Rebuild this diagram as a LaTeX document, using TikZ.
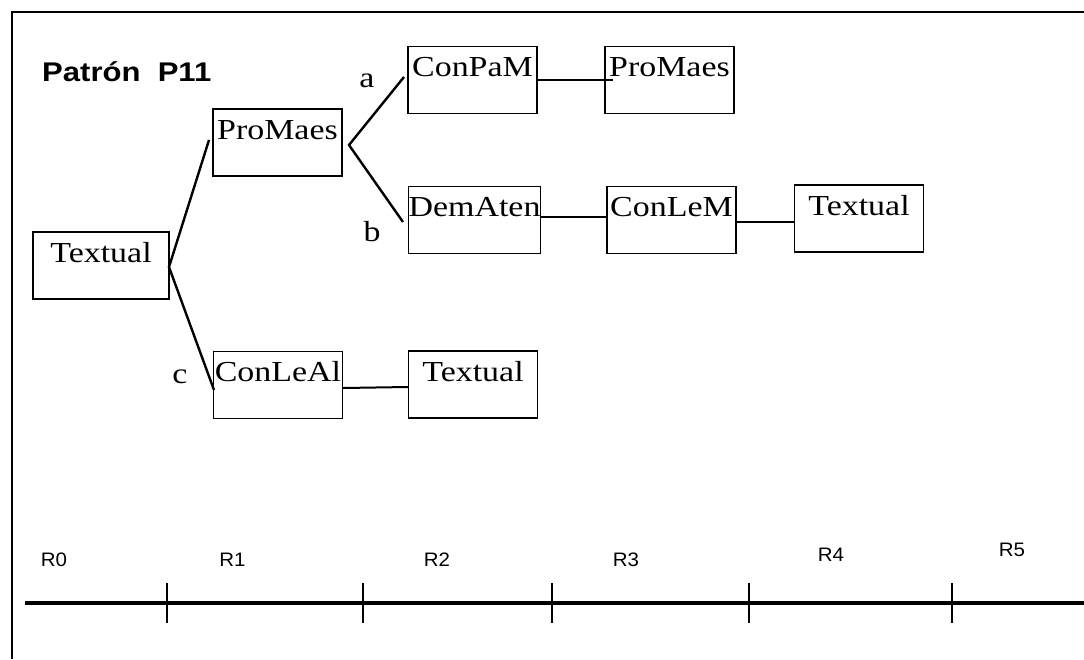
\documentclass[tikz,border=0pt]{standalone}
\usepackage{fontspec}
\newfontfamily\tnr[FakeStretch=1.17]{Liberation Serif}
\newfontfamily\arb[FakeStretch=1.15]{Liberation Sans}
\newfontfamily\arr[FakeStretch=1.05]{Liberation Sans}
\tikzset{
  boxnode/.style={draw, line width=1.4pt, minimum width=129pt, inner xsep=0pt, inner ysep=0pt,
    text height=30pt, text depth=37pt, font=\tnr\fontsize{29}{32}\selectfont},
  branch/.style={line width=2.4pt},
  link/.style={line width=2pt},
  lbl/.style={font=\tnr\fontsize{29}{32}\selectfont, inner sep=0pt},
  rlbl/.style={font=\arr\fontsize{19.5}{21}\selectfont, inner sep=0pt},
  tick/.style={line width=2pt}
}
\begin{document}
\begin{tikzpicture}[x=1pt,y=-1pt]
\useasboundingbox (0,0) rectangle (1084,659);
% frame
\draw[line width=2.5pt] (12,659) -- (12,12) -- (1084,12);
% title
\node[anchor=base west, inner sep=0pt, font=\arb\bfseries\fontsize{27}{29}\selectfont] (title) at (42,81) {Patrón~~P11};
% boxes
\node[boxnode, minimum width=136pt] (T0) at (101,265.5) {Textual};
\node[boxnode] (P1) at (277.5,142.5) {ProMaes};
\node[boxnode] (A1) at (472.5,80) {ConPaM};
\node[boxnode] (A2) at (669.5,80) {ProMaes};
\node[boxnode] (B1) at (474.5,220) {DemAten};
\node[boxnode] (B2) at (671.5,220) {ConLeM};
\node[boxnode] (B3) at (859,218.5) {Textual};
\node[boxnode] (C1) at (278,385) {ConLeAl};
\node[boxnode] (C2) at (473,384.5) {Textual};
% branch points
\coordinate (v0) at (169,267);
\coordinate (p1in) at (209,140);
\coordinate (c1in) at (214,390);
\coordinate (v1) at (349,145);
\coordinate (a1in) at (404,77);
\coordinate (b1in) at (403,222);
\draw[branch] (p1in) -- (v0) -- (c1in);
\draw[branch] (a1in) -- (v1) -- (b1in);
% links
\draw[link] (A1.east) -- ([xshift=9pt]A2.west);
\draw[link] ([yshift=3pt]B1.east) -- ([yshift=3pt]B2.west);
\draw[link] ([yshift=-2pt]B2.east) -- ([yshift=-3.5pt]B3.west);
\draw[link] ([yshift=-3pt]C1.east) -- ([yshift=-2.5pt]C2.west);
% branch labels
\node[lbl] (la) at (367,81) {a};
\node[lbl] (lb) at (372,232) {b};
\node[lbl] (lc) at (180,377) {c};
% timeline
\draw[line width=3.5pt] (25,603) -- (1084,603);
\foreach \x in {167,363,552,749,952} \draw[tick] (\x,583) -- (\x,623);
\node[rlbl] (r0) at (54,560) {R0};
\node[rlbl] (r1) at (232.5,560) {R1};
\node[rlbl] (r2) at (437,560) {R2};
\node[rlbl] (r3) at (626,560) {R3};
\node[rlbl] (r4) at (831,555) {R4};
\node[rlbl] (r5) at (1012,550) {R5};
\end{tikzpicture}
\end{document}
